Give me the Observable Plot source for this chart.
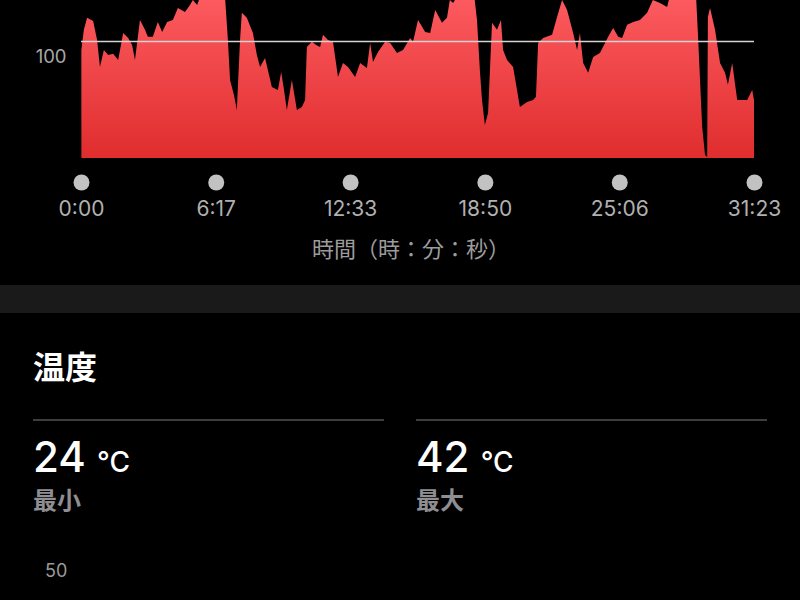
<!DOCTYPE html>
<html>
<head>
<meta charset="utf-8">
<script src="https://cdn.jsdelivr.net/npm/d3@7"></script>
<script src="https://cdn.jsdelivr.net/npm/@observablehq/plot@0.6"></script>
<style>
  html, body { margin: 0; padding: 0; background: #000; }
  #page { position: relative; width: 800px; height: 600px; overflow: hidden; background: #000;
          font-family: Inter, "Noto Sans CJK JP", sans-serif; }
  #chart { position: absolute; left: 0; top: 0; }
  .abs { position: absolute; white-space: nowrap; line-height: 1; }
</style>
</head>
<body>
<div id="page">
  <div id="chart"></div>
</div>
<script>
// Heart-rate series: elapsed time (seconds) and bpm
const timeSec = [1, 8, 17, 34, 45, 53, 64, 76, 90, 104, 118, 132, 143, 151, 165, 179, 187, 201, 215, 227, 241, 257, 271, 291, 305, 313, 325, 333, 361, 389, 403, 411, 417, 428, 436, 445, 450, 464, 481, 492, 501, 515, 534, 551, 560, 568, 576, 590, 604, 618, 627, 632, 646, 658, 669, 677, 691, 705, 719, 733, 747, 767, 781, 800, 809, 817, 831, 851, 865, 884, 901, 921, 929, 943, 963, 977, 991, 1010, 1024, 1032, 1041, 1055, 1077, 1100, 1108, 1116, 1122, 1130, 1139, 1150, 1164, 1175, 1181, 1192, 1209, 1228, 1248, 1265, 1273, 1279, 1293, 1318, 1332, 1346, 1360, 1377, 1388, 1396, 1405, 1419, 1433, 1452, 1475, 1489, 1503, 1514, 1528, 1545, 1564, 1584, 1600, 1620, 1640, 1648, 1676, 1704, 1721, 1726, 1732, 1738, 1746, 1752, 1754, 1760, 1774, 1788, 1802, 1810, 1822, 1836, 1864, 1878, 1883];
const bpm = [96.9, 103.8, 107.9, 106.8, 100.3, 91.1, 96.9, 95.2, 95.6, 93.5, 102.7, 101.0, 98.6, 93.5, 107.2, 103.8, 101.4, 101.4, 106.5, 103.1, 106.5, 107.2, 111.3, 109.9, 112.3, 114, 112.3, 115, 117.5, 116.8, 115, 100.3, 86.7, 81.5, 76.4, 100.3, 109.6, 107.9, 102.7, 95.2, 91.1, 94.2, 84.3, 83.2, 89.4, 83.2, 76.4, 86.7, 76.4, 77.4, 79.8, 97.9, 99.7, 98.6, 97.9, 102.1, 100.3, 99.7, 87.7, 92.5, 91.1, 87.7, 92.5, 90.8, 99.3, 92.8, 96.2, 99.7, 99.3, 95.9, 96.9, 101.0, 99.7, 107.2, 103.1, 102.7, 110.6, 106.2, 107.9, 114, 113, 115.7, 117.5, 115.7, 107.2, 90, 79.8, 71.3, 75.4, 106.2, 103.8, 107.2, 96.9, 93.5, 91.1, 77.4, 79.1, 79.8, 80.9, 99.3, 101.0, 102.1, 108.2, 114, 110.6, 102.7, 96.9, 102.7, 92.5, 89.1, 94.5, 95.9, 101.4, 104.4, 101.4, 101.0, 105.5, 106.5, 107.2, 109.6, 114, 113, 111.6, 115.7, 117.5, 116.8, 115, 102.7, 86.7, 70.6, 61.0, 60.3, 108.2, 111.3, 103.8, 92.5, 89.1, 85.0, 92.5, 79.8, 79.8, 83.2, 79.8];

// x-axis ticks
const tickSec = [0, 377, 753, 1130, 1506, 1883];
const tickLabels = ["0:00", "6:17", "12:33", "18:50", "25:06", "31:23"];
const refBpm = [100];
const axisTitle = "時間（時：分：秒）";

// Temperature section
const sectionTitle = "温度";
const tempValues = [24, 42];
const tempLabels = ["最小", "最大"];
const tempUnit = "°C";
const nextAxisLabel = "50";

const data = timeSec.map((t, i) => ({ t, v: bpm[i] }));

const chart = Plot.plot({
  width: 800,
  height: 230,
  marginLeft: 81,
  marginRight: 46,
  marginTop: 0,
  marginBottom: 72,
  style: { background: "transparent", color: "#aaa", fontFamily: "Inter, 'Noto Sans CJK JP', sans-serif" },
  x: { domain: [0, 1883], axis: null },
  y: { domain: [60, 114], axis: null },
  marks: [
    Plot.areaY(data, { x: "t", y: "v", fill: "url(#hrGrad)", clip: true }),
    Plot.ruleY(refBpm, { stroke: "#d4d4d4", strokeWidth: 1.5 }),
    Plot.text(refBpm, { y: d => d, text: d => String(d), frameAnchor: "left", textAnchor: "end", dx: -15, dy: 16, fontSize: 18.5, fill: "#a8a8a8" }),
    Plot.dot(tickSec, { x: d => d, frameAnchor: "bottom", dy: 24, r: 8, fill: "#c2c2c2", stroke: "none" }),
    Plot.text(tickSec, { x: d => d, text: (d, i) => tickLabels[i], frameAnchor: "bottom", dy: 57, fontSize: 21, fill: "#b0b0b0" })
  ]
});

const svg = d3.select(chart);
const grad = svg.insert("defs", ":first-child")
  .append("linearGradient")
  .attr("id", "hrGrad")
  .attr("gradientUnits", "userSpaceOnUse")
  .attr("x1", 0).attr("y1", 0).attr("x2", 0).attr("y2", 158);
grad.append("stop").attr("offset", "0%").attr("stop-color", "#fc5a5f");
grad.append("stop").attr("offset", "100%").attr("stop-color", "#e02d2e");

document.getElementById("chart").appendChild(chart);

const page = document.getElementById("page");
function add(html, style) {
  const el = document.createElement("div");
  el.className = "abs";
  el.innerHTML = html;
  Object.assign(el.style, style);
  page.appendChild(el);
  return el;
}

add(axisTitle, { left: "411px", top: "236px", transform: "translateX(-50%)", fontSize: "22px", color: "#9c9c9c", fontFamily: "'Noto Sans CJK JP', sans-serif" });
add("", { left: "0px", top: "285px", width: "800px", height: "28px", background: "#1a1a1a" });
add(sectionTitle, { left: "33px", top: "349px", fontSize: "32px", fontWeight: "700", color: "#fff", fontFamily: "'Noto Sans CJK JP', sans-serif" });

const cols = [33, 416];
tempValues.forEach((v, i) => {
  const x = cols[i];
  add("", { left: x + "px", top: "419px", width: "351px", height: "2px", background: "#3d3d3f" });
  add(`${v} <span style="font-size:28px">${tempUnit}</span>`, { left: x + "px", top: "436px", fontSize: "42px", fontWeight: "500", color: "#fff" });
  add(tempLabels[i], { left: x + "px", top: "487px", fontSize: "24px", fontWeight: "700", color: "#8e8e93", fontFamily: "'Noto Sans CJK JP', sans-serif" });
});
add(nextAxisLabel, { left: "45px", top: "562px", fontSize: "18px", color: "#9a9a9a" });
</script>
</body>
</html>
